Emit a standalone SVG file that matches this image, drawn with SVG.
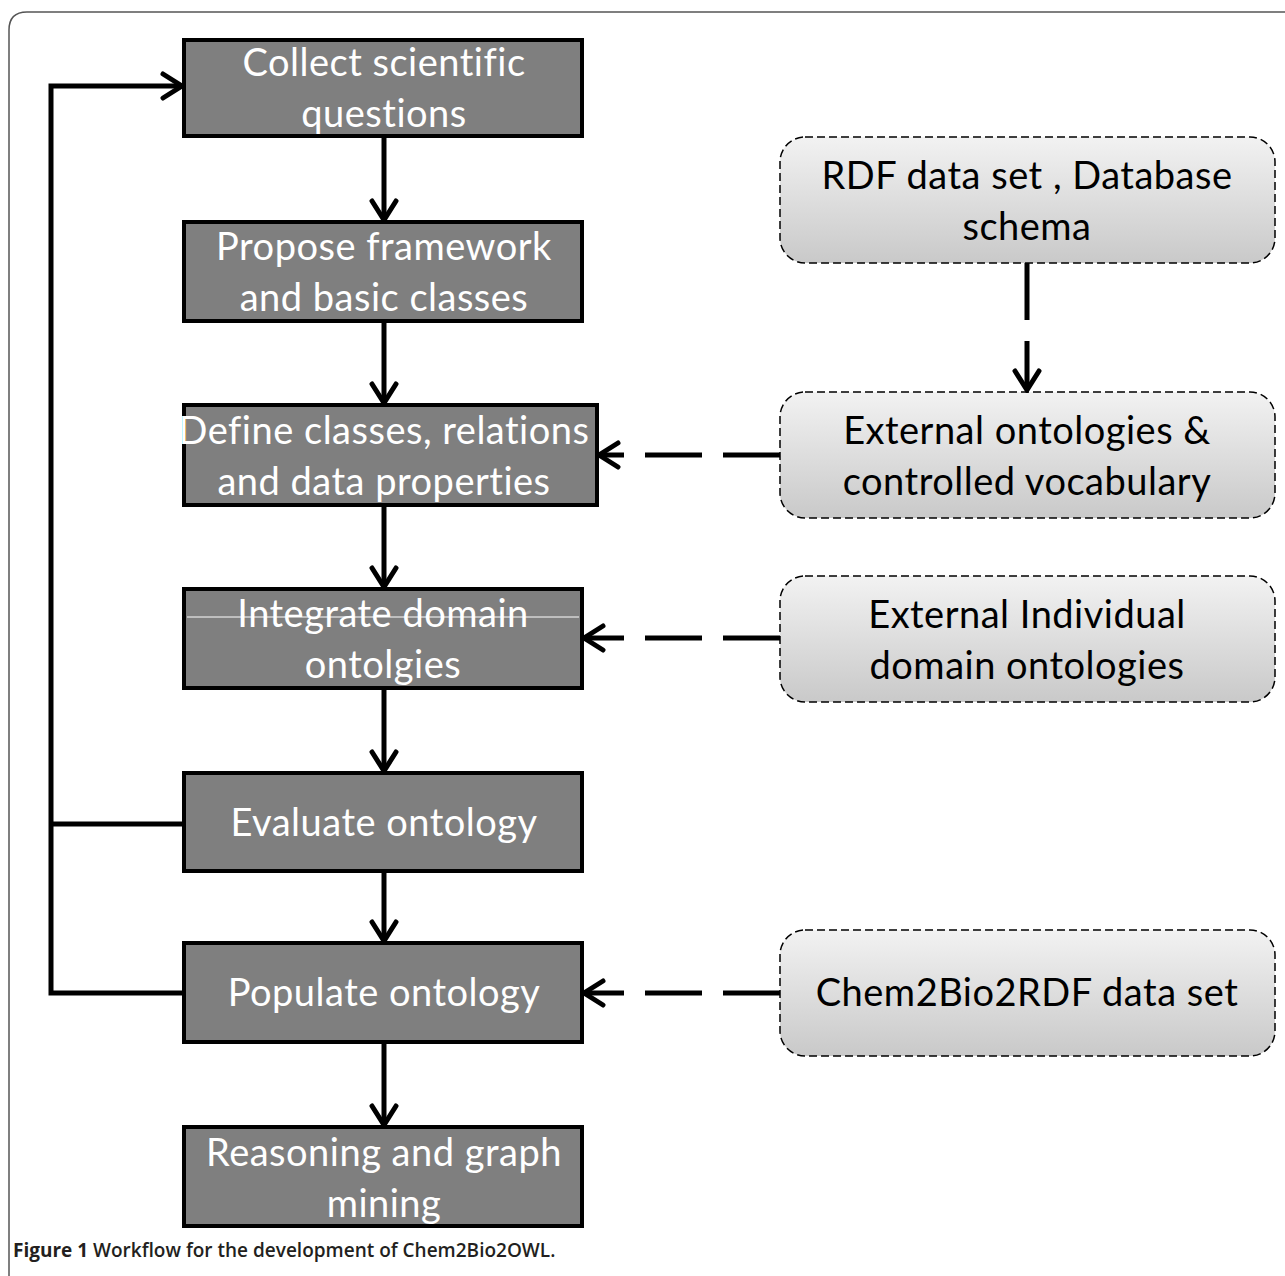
<svg xmlns="http://www.w3.org/2000/svg" width="1285" height="1276" viewBox="0 0 1285 1276">
<defs>
<linearGradient id="g" x1="0" y1="0" x2="0" y2="1">
<stop offset="0" stop-color="#f2f2f2"/>
<stop offset="1" stop-color="#c9c9c9"/>
</linearGradient>
<marker id="ah" viewBox="0 0 30 30" markerWidth="30" markerHeight="30" refX="27" refY="15" orient="auto" markerUnits="userSpaceOnUse">
<path d="M 8 3 L 27 15 L 8 27" fill="none" stroke="#000" stroke-width="5" stroke-linecap="round" stroke-linejoin="miter"/>
</marker>
<style>
.box{fill:#7f7f7f;stroke:#000;stroke-width:4}
.ext{fill:url(#g);stroke:#000;stroke-width:1.5;stroke-dasharray:8 4}
.wt,.bt{font-family:Lato,"Open Sans","Liberation Sans",sans-serif;font-size:38px;letter-spacing:0.5px;text-anchor:middle;font-variant-ligatures:none}
.wt{fill:#fff}
.bt{fill:#000}
.c{fill:none;stroke:#000;stroke-width:5}
.d{fill:none;stroke:#000;stroke-width:5;stroke-dasharray:57 21}
</style>
</defs>
<rect width="1285" height="1276" fill="#fff"/>
<path d="M 9 1276 V 30 Q 9 12 27 12 H 1285" fill="none" stroke="#555" stroke-width="1.5"/>

<g id="n1"><rect class="box" x="184" y="40" width="398" height="96"/>
<text class="wt" x="384" y="76">Collect scientific</text><text class="wt" x="384" y="127">questions</text></g>
<g id="n2"><rect class="box" x="184" y="222" width="398" height="99"/>
<text class="wt" x="384" y="260">Propose framework</text><text class="wt" x="384" y="311">and basic classes</text></g>
<g id="n3"><rect class="box" x="184" y="405" width="413" height="100"/>
<text class="wt" x="384" y="444">Define classes, relations</text><text class="wt" x="384" y="495">and data properties</text></g>
<g id="n4"><rect class="box" x="184" y="589" width="398" height="99"/>
<text class="wt" x="383" y="627">Integrate domain</text><text class="wt" x="383" y="678">ontolgies</text>
<line x1="187" y1="617" x2="579" y2="617" stroke="#fff" stroke-width="1"/></g>
<g id="n5"><rect class="box" x="184" y="773" width="398" height="98"/>
<text class="wt" x="384" y="836">Evaluate ontology</text></g>
<g id="n6"><rect class="box" x="184" y="943" width="398" height="99"/>
<text class="wt" x="384" y="1006">Populate ontology</text></g>
<g id="n7"><rect class="box" x="184" y="1127" width="398" height="99"/>
<text class="wt" x="384" y="1166">Reasoning and graph</text><text class="wt" x="384" y="1217">mining</text></g>

<g id="e1"><rect class="ext" x="780" y="137" width="495" height="126" rx="25"/>
<text class="bt" x="1027" y="189">RDF data set , Database</text><text class="bt" x="1027" y="240">schema</text></g>
<g id="e2"><rect class="ext" x="780" y="392" width="495" height="126" rx="25"/>
<text class="bt" x="1027" y="444">External ontologies &amp;</text><text class="bt" x="1027" y="495">controlled vocabulary</text></g>
<g id="e3"><rect class="ext" x="780" y="576" width="495" height="126" rx="25"/>
<text class="bt" x="1027" y="628">External Individual</text><text class="bt" x="1027" y="679">domain ontologies</text></g>
<g id="e4"><rect class="ext" x="780" y="930" width="495" height="126" rx="25"/>
<text class="bt" x="1027" y="1006">Chem2Bio2RDF data set</text></g>

<g id="connectors">
<line class="c" x1="384" y1="138" x2="384" y2="220" marker-end="url(#ah)"/>
<line class="c" x1="384" y1="323" x2="384" y2="403" marker-end="url(#ah)"/>
<line class="c" x1="384" y1="507" x2="384" y2="587" marker-end="url(#ah)"/>
<line class="c" x1="384" y1="690" x2="384" y2="771" marker-end="url(#ah)"/>
<line class="c" x1="384" y1="873" x2="384" y2="941" marker-end="url(#ah)"/>
<line class="c" x1="384" y1="1044" x2="384" y2="1125" marker-end="url(#ah)"/>
<path class="c" d="M 182 993 H 51 V 86 H 182" marker-end="url(#ah)"/>
<line class="c" x1="51" y1="824" x2="182" y2="824"/>
<line class="d" x1="1027" y1="263" x2="1027" y2="390" marker-end="url(#ah)"/>
<line class="d" x1="780" y1="455" x2="599" y2="455" marker-end="url(#ah)"/>
<line class="d" x1="780" y1="638" x2="584" y2="638" marker-end="url(#ah)"/>
<line class="d" x1="780" y1="993" x2="584" y2="993" marker-end="url(#ah)"/>
</g>

<text x="13" y="1257" font-family="'Open Sans','Liberation Sans',sans-serif" font-size="19" fill="#231f20" font-weight="600"><tspan font-weight="bold">Figure 1</tspan> Workflow for the development of Chem2Bio2OWL.</text>
</svg>
